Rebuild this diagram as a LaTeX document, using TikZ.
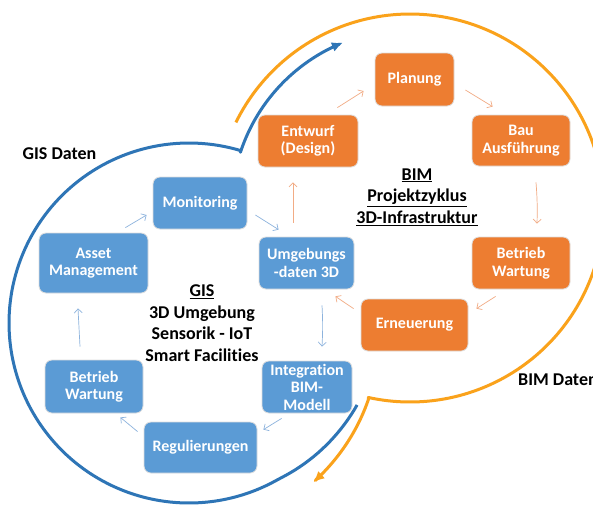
\documentclass[tikz,border=0pt]{standalone}
\usepackage{fontspec}
\setmainfont{Carlito}[Ligatures=NoCommon]
\usetikzlibrary{arrows.meta}
\definecolor{boxblue}{HTML}{5B9BD5}
\definecolor{boxorange}{HTML}{ED7D31}
\definecolor{ringblue}{HTML}{2E75B6}
\definecolor{ringorange}{HTML}{FAA21B}
\definecolor{lineblue}{HTML}{8DB3DD}
\definecolor{lineorange}{HTML}{F2AC85}
\newcommand\bxfont{\fontsize{16}{17.5}\selectfont\bfseries}
\newcommand\lbfont{\fontsize{18}{21.5}\selectfont\bfseries}
\begin{document}
\begin{tikzpicture}[x=1pt,y=-1pt,
  box/.style={rounded corners=7pt, draw=black!13, line width=0.8pt, text=white,
    font=\bxfont, align=center, inner sep=0pt},
  bbox/.style={box, fill=boxblue},
  obox/.style={box, fill=boxorange},
  lbl/.style={font=\lbfont, text=black, align=center, inner sep=0pt},
  ring/.style={line width=3pt, line join=round, -{Latex[length=11pt,width=10pt]}},
  barrow/.style={lineblue, line width=0.7pt, -{Straight Barb[length=4pt,width=8pt]}},
  oarrow/.style={lineorange, line width=0.7pt, -{Straight Barb[length=4pt,width=8pt]}}]
\useasboundingbox (0,0) rectangle (593,504);
\fill[white] (0,0) rectangle (593,504);
\clip (0,0) rectangle (593,504);

% big rings
\draw[ring, ringblue]
  plot[domain=26:286.6, samples=150] ({189+(180+7*max(0,60-\x)/34)*cos(\x)}, {323+(180+7*max(0,60-\x)/34)*sin(\x)})
  -- plot[domain=198.2:247.9, samples=40] ({410+178.5*cos(\x)}, {208+178.5*sin(\x)});
\draw[ring, ringorange]
  plot[domain=206.2:462.4, samples=180] ({410+194*cos(\x)}, {208+194*sin(\x)})
  -- plot[domain=23:52, samples=40] ({189+(195+7*(\x-23)/29)*cos(\x)}, {323+(195+7*(\x-23)/29)*sin(\x)});

% GIS boxes
\node[bbox, minimum width=94pt, minimum height=52pt] (mon) at (200,203) {Monitoring};
\node[bbox, minimum width=109pt, minimum height=60pt] (asset) at (93.5,263) {Asset\\Management};
\node[bbox, minimum width=98pt, minimum height=53pt] (betb) at (94,386.5) {Betrieb\\Wartung};
\node[bbox, minimum width=113pt, minimum height=51pt] (reg) at (200.5,447.5) {Regulierungen};
\node[bbox, minimum width=90pt, minimum height=52pt] (integ) at (307,387) {Integration\\BIM-\\Modell};
\node[bbox, minimum width=95pt, minimum height=52pt] (umg) at (306.5,263) {Umgebungs\\-daten 3D};

% BIM boxes
\node[obox, minimum width=107pt, minimum height=52pt] (ern) at (414.5,325) {Erneuerung};
\node[obox, minimum width=98pt, minimum height=52pt] (beto) at (521,263) {Betrieb\\Wartung};
\node[obox, minimum width=98pt, minimum height=51pt] (bau) at (521,140.5) {Bau\\Ausführung};
\node[obox, minimum width=79pt, minimum height=53pt] (plan) at (414.5,79.5) {Planung};
\node[obox, minimum width=100pt, minimum height=52pt] (entw) at (308,141) {Entwurf\\(Design)};

% small blue arrows
\draw[barrow] ([shift={(-6,10)}]reg.north west) -- ([shift={(-23,4)}]betb.south east);
\draw[barrow] ([shift={(-14,-13)}]betb.north) -- ([shift={(-15.5,15)}]asset.south);
\draw[barrow] ([shift={(-23,-5)}]asset.north east) -- ([shift={(-6,12)}]mon.west);
\draw[barrow] ([shift={(8,12)}]mon.east) -- ([shift={(20,-7)}]umg.north west);
\draw[barrow] ([shift={(15.5,16)}]umg.south) to[bend left=3] ([shift={(15,-14)}]integ.north);
\draw[barrow] ([shift={(20,5)}]integ.south west) -- ([shift={(6,8)}]reg.north east);

% small orange arrows
\draw[oarrow] ([shift={(-7,10)}]ern.north west) -- ([shift={(-19,7)}]umg.south east);
\draw[oarrow] ([shift={(-13.5,-14)}]umg.north) -- ([shift={(-15,15)}]entw.south);
\draw[oarrow] ([shift={(-21,-7)}]entw.north east) -- ([shift={(-11,11.5)}]plan.west);
\draw[oarrow] ([shift={(11,10.5)}]plan.east) -- ([shift={(21,-8)}]bau.north west);
\draw[oarrow] ([shift={(15,16)}]bau.south) to[bend left=3] ([shift={(16,-13)}]beto.north);
\draw[oarrow] ([shift={(24,7)}]beto.south west) -- ([shift={(8,10)}]ern.north east);

% labels
\node[lbl] (gisd) at (59.5,154) {GIS Daten};
\node[lbl, anchor=west] (bimd) at (518,380) {BIM Daten};
\node[lbl] (bimc) at (417,197) {\underline{BIM}\\\underline{Projektzyklus}\\\underline{3D-Infrastruktur}};
\node[lbl] (gisc) at (202,323) {\underline{GIS}\\3D Umgebung\\Sensorik - IoT\\Smart Facilities};
\end{tikzpicture}
\end{document}
